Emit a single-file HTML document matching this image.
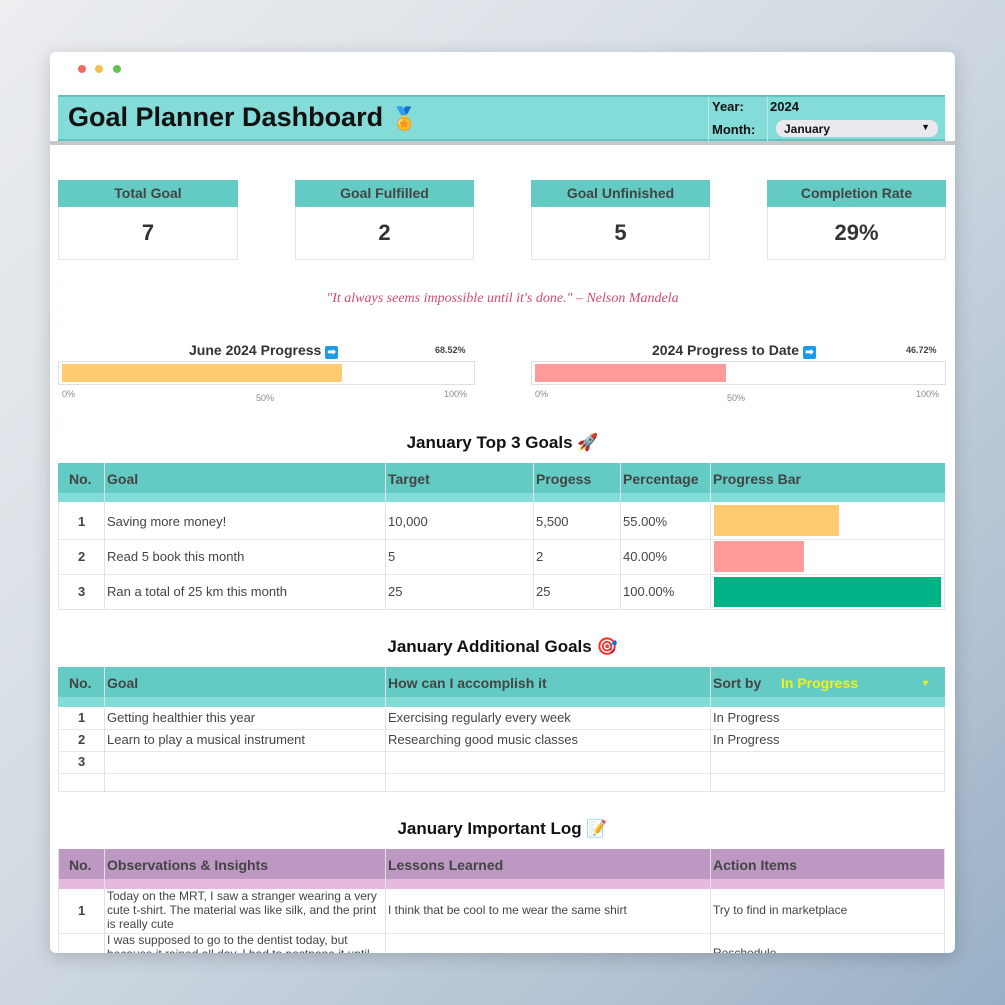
<!DOCTYPE html>
<html><head><meta charset="utf-8"><style>
*{margin:0;padding:0;box-sizing:border-box}
body{width:1005px;height:1005px;overflow:hidden;position:relative;font-family:"Liberation Sans",sans-serif;color:#333;
background:linear-gradient(135deg,#eceef0 0%,#d3dbe3 45%,#b2c2d2 80%,#98afc6 100%)}
.a{position:absolute}
.win{left:50px;top:52px;width:905px;height:901px;background:#fff;border-radius:6px;box-shadow:0 4px 18px rgba(0,0,0,.18);overflow:hidden}
.dot{width:8px;height:8px;border-radius:50%;top:65px}
.c{text-align:center}
.t{font-size:13px;color:#444;white-space:nowrap}
.h{font-size:14px;font-weight:bold;color:#444;white-space:nowrap}
.vl{width:1px;background:#e2e2e2}
.hl{height:1px;background:#e8e8e8}
</style></head><body>
<div class="a win"></div>
<div class="a dot" style="left:78px;background:#ed6a5e"></div>
<div class="a dot" style="left:95px;background:#f5bf4f"></div>
<div class="a dot" style="left:113px;background:#61c554"></div>

<!-- header -->
<div class="a" style="left:58px;top:95px;width:887px;height:46px;background:#84dcd9;border-top:2px solid #5fc4c0;border-bottom:2px solid #5fc4c0"></div>
<div class="a" style="left:50px;top:141px;width:905px;height:4px;background:#c8c8c8"></div>
<div class="a" style="left:68px;top:102px;font-size:27px;font-weight:bold;color:#111">Goal Planner Dashboard <span style="font-size:22px">🏅</span></div>
<div class="a vl" style="left:708px;top:97px;height:44px;background:#b9eae8"></div>
<div class="a vl" style="left:767px;top:97px;height:44px;background:#b9eae8"></div>
<div class="a" style="left:712px;top:99px;font-size:13px;font-weight:bold;color:#111">Year:</div>
<div class="a" style="left:712px;top:122px;font-size:13px;font-weight:bold;color:#111">Month:</div>
<div class="a" style="left:770px;top:99px;font-size:13px;font-weight:bold;color:#111">2024</div>
<div class="a" style="left:776px;top:120px;width:162px;height:17px;background:#e9e9ee;border-radius:8px;font-size:12px;font-weight:bold;color:#111;padding:2px 0 0 8px">January<span style="position:absolute;right:8px;top:2px;font-size:9px">▼</span></div>

<!-- stat cards -->
<div class="a" style="left:58px;top:180px;width:180px;height:80px;border:1px solid #e4e4e4"></div>
<div class="a" style="left:295px;top:180px;width:179px;height:80px;border:1px solid #e4e4e4"></div>
<div class="a" style="left:531px;top:180px;width:179px;height:80px;border:1px solid #e4e4e4"></div>
<div class="a" style="left:767px;top:180px;width:179px;height:80px;border:1px solid #e4e4e4"></div>
<div class="a c h" style="left:58px;top:180px;width:180px;height:27px;background:#63cbc3;padding-top:5px">Total Goal</div>
<div class="a c h" style="left:295px;top:180px;width:179px;height:27px;background:#63cbc3;padding-top:5px">Goal Fulfilled</div>
<div class="a c h" style="left:531px;top:180px;width:179px;height:27px;background:#63cbc3;padding-top:5px">Goal Unfinished</div>
<div class="a c h" style="left:767px;top:180px;width:179px;height:27px;background:#63cbc3;padding-top:5px">Completion Rate</div>
<div class="a c" style="left:58px;top:220px;width:180px;font-size:22px;font-weight:bold;color:#333">7</div>
<div class="a c" style="left:295px;top:220px;width:179px;font-size:22px;font-weight:bold;color:#333">2</div>
<div class="a c" style="left:531px;top:220px;width:179px;font-size:22px;font-weight:bold;color:#333">5</div>
<div class="a c" style="left:767px;top:220px;width:179px;font-size:22px;font-weight:bold;color:#333">29%</div>

<div class="a c" style="left:50px;top:291px;width:905px;font-family:'Liberation Serif',serif;font-style:italic;font-size:14px;color:#d14a72">"It always seems impossible until it's done." – Nelson Mandela</div>

<!-- progress -->
<div class="a h" style="left:189px;top:342px;color:#333">June 2024 Progress <span style="display:inline-block;width:13px;height:13px;background:#1a9be6;color:#fff;font-size:10px;line-height:13px;text-align:center;border-radius:2px">➡</span></div>
<div class="a" style="left:435px;top:345px;font-size:9px;font-weight:bold;color:#444">68.52%</div>
<div class="a" style="left:58px;top:361px;width:417px;height:24px;border:1px solid #e0e0e0"></div>
<div class="a" style="left:62px;top:364px;width:280px;height:18px;background:#ffcb70"></div>
<div class="a" style="left:62px;top:389px;font-size:9px;color:#888">0%</div>
<div class="a" style="left:256px;top:393px;font-size:9px;color:#888">50%</div>
<div class="a" style="left:444px;top:389px;font-size:9px;color:#888">100%</div>

<div class="a h" style="left:652px;top:342px;color:#333">2024 Progress to Date <span style="display:inline-block;width:13px;height:13px;background:#1a9be6;color:#fff;font-size:10px;line-height:13px;text-align:center;border-radius:2px">➡</span></div>
<div class="a" style="left:906px;top:345px;font-size:9px;font-weight:bold;color:#444">46.72%</div>
<div class="a" style="left:531px;top:361px;width:415px;height:24px;border:1px solid #e0e0e0"></div>
<div class="a" style="left:535px;top:364px;width:191px;height:18px;background:#ff9b9b"></div>
<div class="a" style="left:535px;top:389px;font-size:9px;color:#888">0%</div>
<div class="a" style="left:727px;top:393px;font-size:9px;color:#888">50%</div>
<div class="a" style="left:916px;top:389px;font-size:9px;color:#888">100%</div>

<!-- top 3 -->
<div class="a c" style="left:50px;top:433px;width:905px;font-size:17px;font-weight:bold;color:#111">January Top 3 Goals 🚀</div>
<div class="a" style="left:58px;top:463px;width:887px;height:147px;border:1px solid #e4e4e4"></div>
<div class="a" style="left:58px;top:463px;width:887px;height:30px;background:#63cbc3"></div>
<div class="a" style="left:58px;top:493px;width:887px;height:9px;background:#84dcd9"></div>
<div class="a hl" style="left:58px;top:539px;width:887px"></div>
<div class="a hl" style="left:58px;top:574px;width:887px"></div>
<div class="a vl" style="left:104px;top:463px;height:147px"></div>
<div class="a vl" style="left:385px;top:463px;height:147px"></div>
<div class="a vl" style="left:533px;top:463px;height:147px"></div>
<div class="a vl" style="left:620px;top:463px;height:147px"></div>
<div class="a vl" style="left:710px;top:463px;height:147px"></div>
<div class="a h" style="left:69px;top:471px">No.</div>
<div class="a h" style="left:107px;top:471px">Goal</div>
<div class="a h" style="left:388px;top:471px">Target</div>
<div class="a h" style="left:536px;top:471px">Progess</div>
<div class="a h" style="left:623px;top:471px">Percentage</div>
<div class="a h" style="left:713px;top:471px">Progress Bar</div>
<div class="a t" style="left:78px;top:514px;font-weight:bold">1</div>
<div class="a t" style="left:107px;top:514px">Saving more money!</div>
<div class="a t" style="left:388px;top:514px">10,000</div>
<div class="a t" style="left:536px;top:514px">5,500</div>
<div class="a t" style="left:623px;top:514px">55.00%</div>
<div class="a" style="left:714px;top:505px;width:125px;height:31px;background:#ffcb70"></div>
<div class="a t" style="left:78px;top:549px;font-weight:bold">2</div>
<div class="a t" style="left:107px;top:549px">Read 5 book this month</div>
<div class="a t" style="left:388px;top:549px">5</div>
<div class="a t" style="left:536px;top:549px">2</div>
<div class="a t" style="left:623px;top:549px">40.00%</div>
<div class="a" style="left:714px;top:541px;width:90px;height:31px;background:#ff9b9b"></div>
<div class="a t" style="left:78px;top:584px;font-weight:bold">3</div>
<div class="a t" style="left:107px;top:584px">Ran a total of 25 km this month</div>
<div class="a t" style="left:388px;top:584px">25</div>
<div class="a t" style="left:536px;top:584px">25</div>
<div class="a t" style="left:623px;top:584px">100.00%</div>
<div class="a" style="left:714px;top:577px;width:227px;height:30px;background:#00b386"></div>

<!-- additional -->
<div class="a c" style="left:50px;top:637px;width:905px;font-size:17px;font-weight:bold;color:#111">January Additional Goals 🎯</div>
<div class="a" style="left:58px;top:667px;width:887px;height:125px;border:1px solid #e4e4e4"></div>
<div class="a" style="left:58px;top:667px;width:887px;height:30px;background:#63cbc3"></div>
<div class="a" style="left:58px;top:697px;width:887px;height:10px;background:#84dcd9"></div>
<div class="a hl" style="left:58px;top:729px;width:887px"></div>
<div class="a hl" style="left:58px;top:751px;width:887px"></div>
<div class="a hl" style="left:58px;top:773px;width:887px"></div>
<div class="a vl" style="left:104px;top:667px;height:125px"></div>
<div class="a vl" style="left:385px;top:667px;height:125px"></div>
<div class="a vl" style="left:710px;top:667px;height:125px"></div>
<div class="a h" style="left:69px;top:675px">No.</div>
<div class="a h" style="left:107px;top:675px">Goal</div>
<div class="a h" style="left:388px;top:675px">How can I accomplish it</div>
<div class="a h" style="left:713px;top:675px">Sort by</div>
<div class="a h" style="left:781px;top:675px;color:#f2f21a">In Progress</div>
<div class="a" style="left:921px;top:678px;font-size:9px;color:#f2f21a">▼</div>
<div class="a t" style="left:78px;top:710px;font-weight:bold">1</div>
<div class="a t" style="left:107px;top:710px">Getting healthier this year</div>
<div class="a t" style="left:388px;top:710px">Exercising regularly every week</div>
<div class="a t" style="left:713px;top:710px">In Progress</div>
<div class="a t" style="left:78px;top:732px;font-weight:bold">2</div>
<div class="a t" style="left:107px;top:732px">Learn to play a musical instrument</div>
<div class="a t" style="left:388px;top:732px">Researching good music classes</div>
<div class="a t" style="left:713px;top:732px">In Progress</div>
<div class="a t" style="left:78px;top:754px;font-weight:bold">3</div>

<!-- log -->
<div class="a c" style="left:50px;top:819px;width:905px;font-size:17px;font-weight:bold;color:#111">January Important Log 📝</div>
<div class="a" style="left:58px;top:849px;width:887px;height:30px;background:#bc98c3"></div>
<div class="a" style="left:58px;top:879px;width:887px;height:10px;background:#e7b9df"></div>
<div class="a hl" style="left:58px;top:933px;width:887px"></div>
<div class="a vl" style="left:58px;top:849px;height:104px"></div>
<div class="a vl" style="left:944px;top:849px;height:104px"></div>
<div class="a vl" style="left:104px;top:849px;height:104px"></div>
<div class="a vl" style="left:385px;top:849px;height:104px"></div>
<div class="a vl" style="left:710px;top:849px;height:104px"></div>
<div class="a h" style="left:69px;top:857px">No.</div>
<div class="a h" style="left:107px;top:857px">Observations &amp; Insights</div>
<div class="a h" style="left:388px;top:857px">Lessons Learned</div>
<div class="a h" style="left:713px;top:857px">Action Items</div>
<div class="a t" style="left:78px;top:903px;font-weight:bold">1</div>
<div class="a" style="left:107px;top:889px;width:276px;font-size:12px;line-height:14px;color:#444">Today on the MRT, I saw a stranger wearing a very cute t-shirt. The material was like silk, and the print is really cute</div>
<div class="a t" style="left:388px;top:903px;font-size:12px">I think that be cool to me wear the same shirt</div>
<div class="a t" style="left:713px;top:903px;font-size:12px">Try to find in marketplace</div>
<div class="a" style="left:107px;top:933px;width:276px;height:20px;overflow:hidden;font-size:12px;line-height:14px;color:#444">I was supposed to go to the dentist today, but because it rained all day, I had to postpone it until</div>
<div class="a t" style="left:713px;top:946px;font-size:12px;height:7px;overflow:hidden">Reschedule</div>
</body></html>
